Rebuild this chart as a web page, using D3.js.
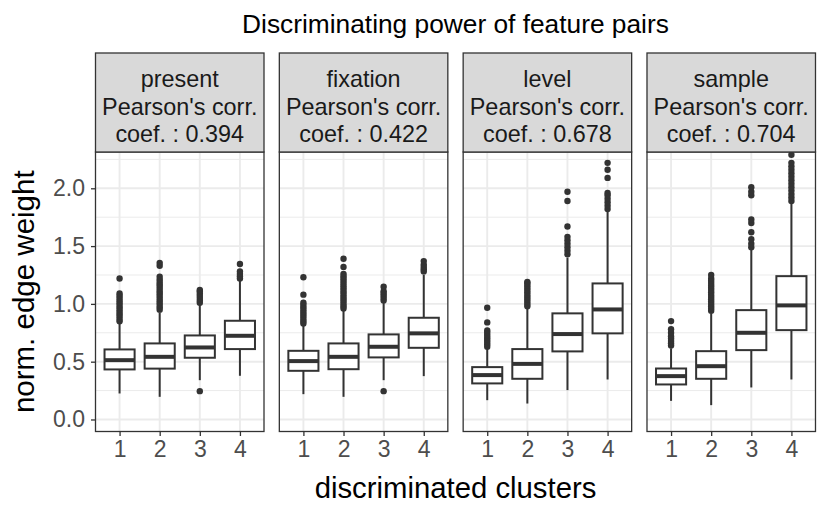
<!DOCTYPE html>
<html>
<head>
<meta charset="utf-8">
<script src="https://cdn.jsdelivr.net/npm/d3@7"></script>
<style>
  body { margin: 0; background: #fff; }
  text { font-family: "Liberation Sans", Arial, sans-serif; }
</style>
</head>
<body>
<script>
// panels (facets) and their strip labels
const features = ["present", "fixation", "level", "sample"];
const coefs = ["0.394", "0.422", "0.678", "0.704"];
const clusters = ["1", "2", "3", "4"];
const yTicks = [0, 0.5, 1, 1.5, 2];
const yMinor = [0.25, 0.75, 1.25, 1.75, 2.25];

// box stats, one row per feature, one value per cluster
const whiskerLow = [
  [0.225, 0.196, 0.340, 0.378],
  [0.219, 0.196, 0.340, 0.375],
  [0.167, 0.138, 0.254, 0.346],
  [0.161, 0.124, 0.277, 0.346]
];
const q1 = [
  [0.433, 0.440, 0.534, 0.609],
  [0.421, 0.435, 0.537, 0.620],
  [0.312, 0.352, 0.589, 0.745],
  [0.303, 0.352, 0.600, 0.773]
];
const median = [
  [0.513, 0.542, 0.623, 0.724],
  [0.505, 0.542, 0.629, 0.745],
  [0.384, 0.481, 0.739, 0.952],
  [0.375, 0.461, 0.750, 0.987]
];
const q3 = [
  [0.606, 0.658, 0.727, 0.854],
  [0.594, 0.658, 0.736, 0.880],
  [0.453, 0.609, 0.918, 1.177],
  [0.441, 0.591, 0.946, 1.240]
];
const whiskerHigh = [
  [0.830, 0.926, 0.990, 1.200],
  [0.816, 0.946, 1.018, 1.250],
  [0.615, 0.960, 1.400, 1.800],
  [0.615, 0.918, 1.466, 1.870]
];
const outliers = [
  [
    [0.85, 0.87, 0.89, 0.91, 0.93, 0.95, 0.97, 0.99, 1.01, 1.03, 1.05, 1.07, 1.09, 1.22],
    [0.95, 0.97, 0.99, 1.01, 1.03, 1.05, 1.07, 1.09, 1.11, 1.13, 1.15, 1.17, 1.19, 1.21, 1.235, 1.33, 1.355],
    [0.245, 1.01, 1.03, 1.05, 1.07, 1.09, 1.11, 1.12],
    [1.22, 1.24, 1.26, 1.28, 1.345]
  ],
  [
    [0.83, 0.85, 0.87, 0.89, 0.91, 0.93, 0.95, 0.97, 0.99, 1.01, 1.08, 1.23],
    [0.96, 0.98, 1.00, 1.02, 1.04, 1.06, 1.08, 1.10, 1.12, 1.14, 1.16, 1.18, 1.20, 1.22, 1.24, 1.26, 1.32, 1.39],
    [0.245, 1.03, 1.05, 1.07, 1.09, 1.11, 1.148],
    [1.28, 1.30, 1.32, 1.34, 1.37]
  ],
  [
    [0.63, 0.65, 0.67, 0.69, 0.71, 0.73, 0.75, 0.77, 0.84, 0.966],
    [0.98, 1.00, 1.02, 1.04, 1.06, 1.08, 1.10, 1.12, 1.14, 1.16, 1.18, 1.19],
    [1.43, 1.46, 1.49, 1.52, 1.55, 1.58, 1.67, 1.89, 1.97],
    [1.82, 1.85, 1.88, 1.91, 1.94, 1.96, 2.09, 2.16, 2.22]
  ],
  [
    [0.64, 0.66, 0.68, 0.70, 0.72, 0.75, 0.78, 0.851],
    [0.94, 0.96, 0.98, 1.00, 1.02, 1.04, 1.06, 1.08, 1.10, 1.12, 1.14, 1.16, 1.18, 1.20, 1.22, 1.25],
    [1.49, 1.52, 1.56, 1.62, 1.70, 1.73, 1.94, 1.97, 2.01],
    [1.89, 1.92, 1.95, 1.98, 2.01, 2.04, 2.07, 2.10, 2.13, 2.16, 2.19, 2.22, 2.29]
  ]
];

const W = 830, H = 520;
const left = 95.5, panelW = 168.5, gap = 15.33;
const stripTop = 53, stripH = 99;
const panelTop = stripTop + stripH, panelBottom = 431.5;
const dark = "#333333";
const lw = 2;

const svg = d3.select("body").append("svg")
  .attr("width", W).attr("height", H);

const y = d3.scaleLinear().domain([-0.104, 2.314]).range([panelBottom, panelTop]);

// title
svg.append("text")
  .attr("x", left + (4 * panelW + 3 * gap) / 2).attr("y", 33)
  .attr("text-anchor", "middle").attr("font-size", 26.3).attr("fill", "#000")
  .text("Discriminating power of feature pairs");

features.forEach(function(feat, i) {
  const px = left + i * (panelW + gap);
  const x = d3.scalePoint().domain(clusters).range([px, px + panelW]).padding(0.6);
  const g = svg.append("g");

  // panel background + grid
  g.append("rect").attr("x", px).attr("y", panelTop)
    .attr("width", panelW).attr("height", panelBottom - panelTop).attr("fill", "#fff");
  g.selectAll(".minor").data(yMinor.filter(v => y(v) > panelTop)).enter().append("line")
    .attr("x1", px).attr("x2", px + panelW)
    .attr("y1", d => y(d)).attr("y2", d => y(d))
    .attr("stroke", "#EBEBEB").attr("stroke-width", 1);
  g.selectAll(".major").data(yTicks).enter().append("line")
    .attr("x1", px).attr("x2", px + panelW)
    .attr("y1", d => y(d)).attr("y2", d => y(d))
    .attr("stroke", "#EBEBEB").attr("stroke-width", 1.9);
  g.selectAll(".vgrid").data(clusters).enter().append("line")
    .attr("x1", d => x(d)).attr("x2", d => x(d))
    .attr("y1", panelTop).attr("y2", panelBottom)
    .attr("stroke", "#EBEBEB").attr("stroke-width", 1.9);

  // boxes
  const bw = x.step() * 0.75;
  clusters.forEach(function(c, j) {
    const cx = x(c);
    g.append("line").attr("x1", cx).attr("x2", cx)
      .attr("y1", y(whiskerLow[i][j])).attr("y2", y(q1[i][j]))
      .attr("stroke", dark).attr("stroke-width", lw);
    g.append("line").attr("x1", cx).attr("x2", cx)
      .attr("y1", y(q3[i][j])).attr("y2", y(whiskerHigh[i][j]))
      .attr("stroke", dark).attr("stroke-width", lw);
    g.append("rect").attr("x", cx - bw / 2).attr("y", y(q3[i][j]))
      .attr("width", bw).attr("height", y(q1[i][j]) - y(q3[i][j]))
      .attr("fill", "#fff").attr("stroke", dark).attr("stroke-width", lw);
    g.append("line").attr("x1", cx - bw / 2).attr("x2", cx + bw / 2)
      .attr("y1", y(median[i][j])).attr("y2", y(median[i][j]))
      .attr("stroke", dark).attr("stroke-width", lw * 2);
    g.selectAll(null).data(outliers[i][j]).enter().append("circle")
      .attr("cx", cx).attr("cy", d => y(d)).attr("r", 3.2)
      .attr("fill", dark);
  });

  // panel border
  g.append("rect").attr("x", px).attr("y", panelTop)
    .attr("width", panelW).attr("height", panelBottom - panelTop)
    .attr("fill", "none").attr("stroke", dark).attr("stroke-width", 1.3);

  // strip
  g.append("rect").attr("x", px).attr("y", stripTop)
    .attr("width", panelW).attr("height", stripH)
    .attr("fill", "#D9D9D9").attr("stroke", dark).attr("stroke-width", 1.3);
  const lines = [feat, "Pearson's corr.", "coef. : " + coefs[i]];
  g.selectAll(".strip").data(lines).enter().append("text")
    .attr("x", px + panelW / 2).attr("y", (d, k) => stripTop + 34 + k * 27.5)
    .attr("text-anchor", "middle").attr("font-size", 23.4).attr("fill", "#1A1A1A")
    .text(d => d);

  // x axis
  const xa = g.append("g").attr("transform", "translate(0," + panelBottom + ")")
    .call(d3.axisBottom(x).tickSize(4.5).tickPadding(5));
  xa.select(".domain").remove();
  xa.selectAll(".tick line").attr("stroke", dark).attr("stroke-width", 1.3);
  xa.selectAll(".tick text").attr("font-size", 23).attr("fill", "#4D4D4D")
    .attr("font-family", "Liberation Sans, Arial, sans-serif").attr("dy", "0.71em");
});

// y axis (first panel only)
const ya = svg.append("g").attr("transform", "translate(" + left + ",0)")
  .call(d3.axisLeft(y).tickValues(yTicks).tickFormat(d3.format(".1f")).tickSize(4.5).tickPadding(6));
ya.select(".domain").remove();
ya.selectAll(".tick line").attr("stroke", dark).attr("stroke-width", 1.3);
ya.selectAll(".tick text").attr("font-size", 23).attr("fill", "#4D4D4D")
  .attr("font-family", "Liberation Sans, Arial, sans-serif");

// axis titles
svg.append("text")
  .attr("x", left + (4 * panelW + 3 * gap) / 2).attr("y", 498)
  .attr("text-anchor", "middle").attr("font-size", 29.3).attr("fill", "#000")
  .text("discriminated clusters");
svg.append("text")
  .attr("transform", "translate(33.5," + ((panelTop + panelBottom) / 2) + ") rotate(-90)")
  .attr("text-anchor", "middle").attr("font-size", 29.5).attr("fill", "#000")
  .text("norm. edge weight");
</script>
</body>
</html>
